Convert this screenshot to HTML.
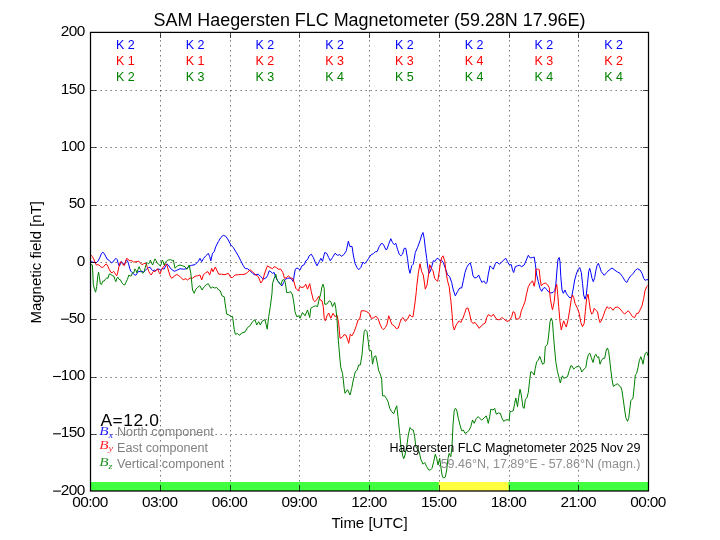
<!DOCTYPE html>
<html><head><meta charset="utf-8"><title>SAM Haegersten FLC Magnetometer</title>
<style>
html,body{margin:0;padding:0;background:#fff;}
body{width:720px;height:540px;overflow:hidden;}
svg{display:block;will-change:transform;}
text{font-family:"Liberation Sans",sans-serif;fill:#000;}
.m{font-family:"Liberation Serif",serif;font-style:italic;fill-opacity:0.85;}
</style></head><body>
<svg width="720" height="540" viewBox="0 0 720 540">
<rect x="0" y="0" width="720" height="540" fill="#ffffff"/>

<rect x="90.5" y="482" width="558.0" height="9.00" fill="#40ff40"/>
<rect x="438.75" y="482" width="69.75" height="9.00" fill="#ffff40"/>
<g stroke="#000" stroke-width="0.65" stroke-dasharray="1.25 3.75" fill="none">
<path d="M160.5 491.45 V32.4"/>
<path d="M230.5 491.45 V32.4"/>
<path d="M299.5 491.45 V32.4"/>
<path d="M369.5 491.45 V32.4"/>
<path d="M439.5 491.45 V32.4"/>
<path d="M509.5 491.45 V32.4"/>
<path d="M578.5 491.45 V32.4"/>
<path d="M90.5 90.50 H648.5"/>
<path d="M90.5 147.50 H648.5"/>
<path d="M90.5 205.50 H648.5"/>
<path d="M90.5 262.50 H648.5"/>
<path d="M90.5 319.50 H648.5"/>
<path d="M90.5 377.50 H648.5"/>
<path d="M90.5 434.50 H648.5"/>
</g>
<g fill="none" stroke-width="1.0" stroke-linejoin="round" stroke-linecap="butt">
<path stroke="#0000ff" d="M90.8 261.7 L93.0 262.2 L96.3 262.8 L98.0 261.1 L99.7 257.8 L101.3 253.9 L102.7 252.2 L104.1 253.3 L105.6 256.1 L107.1 259.1 L108.9 260.2 L110.2 261.7 L111.6 262.8 L113.3 261.7 L114.7 259.4 L116.0 258.3 L117.1 259.4 L118.0 262.8 L119.3 266.1 L120.4 263.9 L121.3 261.7 L122.7 262.8 L124.1 265.0 L125.2 262.8 L126.3 260.0 L127.4 260.6 L128.6 263.9 L129.7 268.3 L130.8 271.1 L132.4 272.8 L134.1 274.4 L135.8 275.3 L137.1 273.3 L138.6 271.3 L140.2 271.7 L141.9 271.3 L143.6 272.2 L145.2 270.6 L146.9 268.7 L148.6 267.6 L150.0 267.2 L151.3 269.1 L152.7 270.6 L154.4 270.2 L156.0 270.6 L157.4 269.1 L159.1 269.1 L160.8 270.0 L162.4 268.3 L164.1 269.1 L165.6 266.1 L166.9 263.9 L168.3 265.0 L170.8 268.7 L174.2 271.3 L176.7 270.3 L180.0 268.7 L183.3 269.2 L186.7 268.7 L189.2 266.3 L191.7 265.3 L195.0 264.7 L198.3 261.3 L200.0 258.3 L201.7 261.7 L203.7 258.3 L205.8 255.8 L208.3 253.3 L209.7 256.7 L210.8 260.8 L212.5 253.3 L214.2 251.7 L215.8 246.7 L218.3 241.7 L220.8 237.5 L223.3 235.3 L225.8 236.3 L228.3 240.0 L230.8 245.0 L233.3 247.5 L235.8 251.7 L238.3 255.8 L240.8 260.8 L243.3 265.8 L245.3 268.7 L247.5 268.7 L250.0 270.8 L252.5 273.3 L255.0 275.0 L258.3 274.2 L260.8 276.7 L263.3 279.2 L265.8 278.0 L267.5 275.8 L269.2 270.8 L270.8 271.7 L272.5 273.3 L274.2 272.5 L275.8 277.5 L278.3 281.7 L280.0 284.2 L282.0 285.8 L283.7 282.5 L285.3 279.2 L287.5 278.3 L290.0 278.0 L291.7 279.2 L293.3 281.7 L294.2 275.0 L295.3 269.2 L297.0 268.0 L298.3 268.7 L300.0 270.0 L302.0 265.8 L304.2 264.7 L305.8 260.8 L307.5 259.7 L309.2 255.8 L311.3 254.2 L313.3 257.5 L315.3 262.5 L317.0 265.8 L319.2 261.7 L320.8 258.3 L322.5 261.3 L324.7 252.5 L326.7 253.3 L328.7 257.5 L330.3 260.8 L332.5 257.5 L335.0 253.3 L337.5 255.3 L339.7 254.7 L341.7 256.3 L344.2 254.2 L346.3 250.8 L348.3 241.3 L350.0 246.7 L352.0 246.3 L353.3 255.0 L355.0 263.3 L357.0 267.5 L358.7 269.7 L360.8 267.5 L363.0 262.0 L364.7 263.7 L366.7 261.3 L368.7 258.3 L370.8 255.0 L373.3 253.7 L375.3 251.7 L377.0 251.7 L379.2 246.7 L381.7 243.0 L383.7 245.0 L385.8 249.7 L387.0 249.2 L388.7 244.2 L390.8 238.7 L392.5 242.5 L394.2 244.7 L395.8 243.3 L397.5 249.2 L399.2 254.2 L400.8 255.8 L402.5 254.2 L404.2 248.3 L405.8 248.3 L407.5 258.3 L408.7 268.3 L410.0 273.3 L411.7 265.8 L413.3 264.2 L415.3 252.5 L417.5 247.5 L420.0 240.8 L421.7 235.0 L423.0 232.5 L424.2 238.3 L425.3 248.3 L426.7 258.3 L428.0 268.3 L429.2 273.3 L430.8 270.0 L432.0 265.8 L433.3 260.8 L435.0 261.3 L436.7 258.7 L438.0 258.3 L439.7 260.3 L441.7 260.3 L443.3 262.5 L445.3 268.3 L447.5 274.7 L449.7 276.7 L451.7 282.5 L453.3 290.0 L455.3 295.8 L457.5 291.7 L459.7 288.0 L461.7 288.0 L463.3 280.8 L465.0 272.5 L466.7 267.5 L468.7 264.2 L470.3 263.0 L471.7 268.3 L473.0 275.8 L474.7 278.0 L476.7 277.5 L478.7 275.0 L480.3 279.2 L482.0 282.5 L483.7 280.8 L485.8 283.7 L487.0 282.5 L488.3 274.2 L490.0 265.8 L491.7 267.5 L493.3 269.2 L495.3 263.7 L497.0 262.0 L499.2 264.2 L501.3 262.5 L503.3 260.3 L505.8 258.3 L507.5 261.7 L509.2 264.7 L511.3 264.7 L512.5 270.0 L513.7 272.5 L515.3 266.7 L517.5 265.8 L519.7 265.3 L521.7 266.7 L524.2 265.0 L526.3 260.0 L528.3 255.3 L530.3 258.0 L532.5 257.5 L534.2 257.0 L535.3 264.2 L536.7 275.0 L538.3 281.7 L540.0 288.3 L541.7 291.3 L543.3 288.3 L545.0 287.5 L546.7 289.7 L548.7 292.0 L550.8 293.0 L553.0 292.5 L554.7 290.8 L555.8 285.0 L557.0 270.0 L558.0 259.2 L559.2 257.5 L560.0 261.7 L560.8 276.7 L562.0 290.0 L563.3 293.3 L565.0 290.0 L566.3 293.3 L568.0 295.8 L570.0 298.0 L571.7 296.7 L573.0 290.0 L574.7 280.0 L576.3 274.2 L578.0 269.7 L579.7 267.5 L581.3 272.5 L582.5 283.3 L583.7 295.0 L585.0 299.2 L586.3 295.0 L587.5 283.3 L588.7 271.7 L589.7 268.3 L590.8 272.5 L592.0 278.3 L593.3 281.7 L594.7 277.5 L595.8 270.8 L597.0 265.8 L598.3 263.3 L599.7 266.7 L601.3 271.7 L604.2 275.3 L606.7 272.5 L609.2 270.0 L612.0 268.0 L615.0 270.3 L617.5 272.0 L620.0 273.3 L622.5 276.7 L625.0 280.8 L626.7 282.5 L628.7 278.7 L630.8 275.8 L633.3 273.3 L635.3 270.3 L637.5 268.7 L640.0 270.0 L642.0 273.3 L643.7 278.3 L645.0 280.3 L646.7 279.7 L648.0 279.7"/>
<path stroke="#ff0000" d="M90.8 255.0 L92.4 256.7 L93.8 259.1 L94.9 262.2 L96.3 265.0 L97.8 264.7 L99.1 265.0 L100.4 266.4 L102.2 267.6 L103.6 266.7 L104.9 265.0 L106.3 263.9 L107.8 266.1 L109.1 269.1 L110.8 272.2 L112.2 272.8 L113.6 271.3 L114.7 272.8 L115.8 274.7 L116.7 275.8 L117.8 272.2 L118.9 266.7 L120.2 262.2 L121.1 261.7 L122.2 263.3 L123.3 265.0 L124.4 265.6 L125.6 261.1 L126.7 258.3 L127.8 258.9 L129.1 260.6 L130.8 260.6 L132.4 261.1 L133.8 262.2 L135.2 261.7 L136.9 261.7 L138.6 261.1 L140.2 262.8 L141.9 264.7 L143.3 263.9 L144.9 263.3 L146.3 263.6 L147.4 267.8 L148.9 271.7 L150.2 273.9 L151.3 275.0 L152.7 272.2 L153.8 271.1 L155.2 271.7 L156.7 269.4 L157.8 268.9 L158.9 272.2 L160.0 273.9 L161.3 270.6 L162.7 267.8 L164.1 266.1 L165.6 263.9 L166.9 265.0 L168.3 270.0 L170.0 275.8 L171.7 278.3 L174.2 276.3 L176.3 274.7 L178.3 275.0 L180.8 277.5 L183.3 279.7 L185.8 278.7 L187.5 280.0 L190.0 278.0 L192.5 278.3 L195.0 276.3 L197.5 275.8 L200.0 275.0 L201.7 280.0 L203.3 275.0 L205.8 272.5 L208.0 271.7 L209.7 275.0 L211.7 268.3 L213.0 271.7 L215.3 267.0 L216.7 270.0 L218.7 274.2 L221.7 274.2 L225.0 274.7 L228.3 273.3 L230.8 277.5 L232.5 277.5 L235.0 275.0 L238.3 274.7 L241.7 274.5 L245.0 274.2 L247.5 272.5 L250.0 269.7 L252.5 271.7 L255.0 274.2 L258.3 276.7 L260.8 283.0 L262.5 280.8 L264.2 275.0 L265.8 270.0 L267.5 265.8 L270.0 267.5 L272.5 268.7 L274.2 266.7 L276.3 267.5 L278.3 269.2 L280.8 269.2 L282.8 272.5 L284.5 278.3 L286.7 277.5 L288.3 275.8 L290.8 278.0 L292.5 278.3 L293.7 280.8 L295.8 288.3 L298.3 290.8 L300.0 286.7 L302.0 287.5 L304.2 286.7 L305.8 284.2 L307.5 289.2 L309.7 283.7 L311.3 291.7 L313.3 300.0 L315.0 301.7 L317.0 299.2 L318.7 296.3 L320.3 300.0 L322.0 300.8 L323.3 306.7 L324.2 318.3 L325.3 320.8 L327.0 315.8 L328.7 313.0 L330.8 318.3 L333.0 313.3 L335.0 316.7 L337.0 315.0 L338.7 323.3 L340.0 338.3 L342.0 337.5 L344.2 334.7 L345.8 335.0 L347.5 339.2 L348.7 343.3 L350.3 334.2 L352.0 335.8 L354.2 331.7 L356.3 325.8 L358.0 320.0 L359.7 319.2 L361.3 310.8 L364.2 310.8 L366.7 311.7 L369.2 313.3 L371.3 318.3 L373.3 318.0 L375.8 316.3 L378.0 318.3 L380.0 324.2 L382.0 328.3 L383.3 329.7 L385.3 327.5 L387.0 324.2 L388.7 315.8 L390.0 319.2 L391.7 324.2 L394.2 325.8 L396.3 328.7 L398.3 328.0 L400.0 322.5 L401.3 319.2 L403.0 317.5 L405.3 321.3 L407.5 319.2 L409.7 314.7 L411.7 316.7 L413.0 316.7 L414.7 305.0 L416.3 291.7 L416.7 286.7 L418.3 273.3 L420.0 263.7 L421.7 271.7 L423.3 275.0 L425.3 289.2 L427.0 285.0 L428.7 273.3 L429.7 264.7 L431.3 268.3 L433.0 270.8 L434.7 278.3 L436.3 280.3 L437.7 281.3 L439.2 271.7 L440.3 263.3 L441.7 257.5 L443.0 255.8 L444.7 260.8 L445.8 270.0 L447.5 280.8 L449.2 286.7 L450.3 296.7 L450.8 300.0 L452.0 313.3 L453.0 325.8 L454.3 330.0 L455.8 325.8 L457.5 323.0 L459.2 320.8 L460.8 322.5 L463.0 318.0 L464.7 313.3 L466.3 308.3 L468.0 308.0 L469.7 314.2 L471.3 321.7 L473.0 323.3 L475.0 322.5 L477.0 325.0 L479.2 328.3 L481.3 325.8 L483.3 324.2 L485.3 323.0 L486.7 317.5 L488.3 314.7 L490.3 315.8 L491.7 316.3 L493.3 314.2 L495.0 317.0 L496.7 319.2 L499.2 320.0 L501.7 317.5 L503.7 318.7 L505.8 320.8 L508.0 321.3 L510.0 319.7 L511.7 316.7 L513.0 311.7 L514.7 312.5 L515.8 318.7 L518.0 319.2 L519.7 318.0 L521.3 310.8 L523.0 306.7 L525.0 301.7 L526.3 295.0 L526.7 293.3 L528.3 286.7 L530.0 283.7 L532.5 280.8 L534.2 286.3 L535.3 280.0 L535.8 269.2 L537.5 269.2 L538.7 269.2 L539.2 269.7 L540.3 280.0 L541.3 285.8 L543.3 283.7 L545.3 283.0 L547.5 284.7 L549.2 287.5 L550.3 298.3 L551.7 306.7 L552.5 309.7 L554.2 301.7 L555.3 290.0 L556.7 284.2 L557.5 291.7 L558.7 306.7 L560.0 321.7 L561.3 330.0 L562.5 325.0 L563.7 320.8 L565.0 324.2 L566.3 327.0 L568.0 320.0 L569.7 310.0 L571.3 299.2 L572.5 295.0 L573.7 297.5 L575.0 303.3 L577.5 308.3 L579.2 313.3 L580.8 322.5 L582.5 326.7 L584.2 323.3 L585.3 311.7 L586.7 298.3 L588.0 294.2 L589.2 301.7 L590.3 310.0 L591.7 314.2 L593.0 312.5 L594.2 308.3 L595.8 310.3 L597.5 311.7 L598.7 318.3 L600.0 322.5 L601.7 320.0 L603.3 315.8 L605.0 310.8 L607.0 306.7 L608.7 308.3 L610.8 307.5 L613.0 310.3 L615.0 307.5 L617.5 307.0 L620.0 308.7 L622.5 312.0 L624.7 314.2 L626.7 312.0 L628.3 310.8 L630.3 313.3 L632.5 316.7 L634.7 317.5 L636.7 313.3 L638.3 313.3 L640.0 310.0 L642.0 305.8 L643.7 298.3 L645.0 290.8 L646.7 286.7 L648.0 285.3"/>
<path stroke="#008000" d="M90.8 264.4 L92.4 265.0 L93.3 284.4 L94.4 288.9 L95.6 292.2 L96.7 286.7 L97.8 275.6 L98.6 272.2 L99.3 276.7 L100.4 283.9 L101.6 284.4 L102.7 281.3 L104.1 281.1 L105.6 279.1 L106.7 277.8 L108.0 278.3 L109.3 273.9 L110.8 274.4 L112.2 275.6 L113.8 276.1 L114.9 279.4 L115.8 281.7 L116.9 278.3 L117.8 277.2 L119.1 279.4 L120.4 279.8 L121.9 282.8 L123.3 284.4 L124.7 285.0 L126.0 282.2 L127.4 279.4 L128.9 275.0 L130.0 276.1 L131.3 275.8 L132.4 272.8 L133.8 272.8 L134.9 268.9 L135.8 269.8 L136.9 272.8 L138.0 269.4 L139.1 266.7 L140.2 269.4 L141.6 271.7 L142.7 273.3 L144.1 271.7 L145.2 267.8 L146.3 263.9 L147.4 262.8 L148.6 263.9 L149.7 262.2 L150.4 260.0 L151.6 263.3 L152.7 265.0 L153.8 261.7 L155.0 258.9 L156.0 260.6 L157.4 263.3 L159.1 264.4 L160.2 266.1 L161.3 263.9 L162.2 260.0 L163.3 261.7 L164.1 265.0 L165.6 262.2 L167.1 260.6 L168.3 260.0 L170.8 259.7 L172.5 260.8 L173.3 260.0 L175.0 268.3 L177.5 265.8 L180.0 265.0 L182.5 265.8 L185.0 266.7 L187.0 269.2 L189.2 265.0 L190.8 273.3 L192.5 290.0 L194.2 293.3 L195.8 289.2 L197.5 287.5 L199.7 285.8 L200.0 285.8 L202.0 290.0 L204.2 286.7 L206.3 284.7 L208.3 283.7 L210.8 288.3 L212.5 287.0 L214.7 288.0 L216.7 287.5 L218.7 290.0 L220.3 290.8 L222.0 295.8 L224.2 296.7 L225.8 308.3 L226.7 314.2 L229.2 315.0 L230.8 316.7 L232.5 316.3 L234.2 329.2 L235.3 334.2 L237.5 333.7 L239.7 335.3 L241.7 333.0 L245.0 332.0 L247.5 327.5 L250.0 325.8 L252.5 321.7 L255.0 319.7 L256.7 325.0 L258.7 321.7 L260.3 325.0 L262.5 320.8 L265.0 319.7 L267.2 329.2 L268.7 316.7 L270.3 306.7 L272.0 293.3 L272.5 283.3 L274.2 278.3 L275.8 274.2 L277.0 280.0 L279.2 282.5 L280.8 285.0 L282.5 280.0 L284.2 279.7 L285.3 282.5 L286.7 292.5 L288.3 292.5 L290.8 291.7 L292.5 295.0 L294.2 305.0 L295.0 311.7 L296.7 316.7 L298.7 315.8 L300.0 318.3 L302.5 312.5 L305.0 315.8 L307.5 310.0 L309.7 317.5 L310.8 308.3 L313.3 306.7 L315.8 305.8 L317.5 306.7 L319.2 299.2 L320.8 293.3 L322.0 286.7 L323.0 284.2 L324.2 288.3 L324.7 304.2 L326.7 304.2 L329.2 300.8 L330.8 301.7 L332.5 306.7 L334.7 302.5 L335.8 308.3 L337.0 319.2 L338.3 340.0 L340.0 360.0 L340.8 367.5 L342.5 373.3 L343.3 380.0 L344.2 388.3 L345.0 393.3 L347.5 389.7 L350.0 395.0 L351.7 388.3 L353.3 380.0 L355.3 371.7 L357.0 370.3 L358.7 365.0 L360.3 365.0 L362.0 355.0 L363.0 343.3 L364.2 331.7 L365.3 329.7 L367.0 331.7 L368.3 341.7 L369.2 350.0 L371.3 350.8 L372.5 364.2 L374.2 356.7 L375.8 355.8 L377.5 364.2 L378.7 370.8 L380.3 374.2 L381.7 379.2 L382.5 395.8 L384.7 395.8 L386.3 398.3 L388.0 401.7 L389.7 408.3 L391.7 411.7 L393.7 413.7 L395.3 409.2 L396.7 405.8 L398.0 416.7 L399.7 433.3 L400.8 445.0 L402.5 455.0 L403.7 458.7 L405.0 455.0 L406.7 446.7 L408.3 435.0 L410.0 427.5 L411.7 429.7 L413.3 430.0 L414.7 436.7 L415.8 446.7 L417.5 449.2 L419.2 451.7 L420.8 459.2 L423.0 464.2 L424.7 462.5 L426.7 466.7 L428.7 470.0 L430.3 470.0 L432.0 468.3 L433.7 461.7 L435.3 454.2 L436.7 458.3 L438.0 465.0 L439.7 458.3 L440.8 466.7 L442.0 475.0 L443.3 478.0 L445.3 477.0 L446.7 470.0 L448.0 458.3 L449.2 453.3 L450.8 456.7 L452.0 446.7 L453.0 425.0 L454.2 410.8 L455.3 408.3 L456.7 410.0 L458.3 418.3 L460.0 425.0 L461.7 430.8 L463.3 430.0 L465.0 433.3 L467.0 432.5 L469.2 430.0 L470.8 426.7 L472.5 420.0 L474.2 423.3 L476.3 418.3 L478.3 416.7 L480.0 418.7 L481.7 420.0 L484.2 418.0 L486.3 415.8 L488.3 423.3 L489.7 416.7 L490.8 409.2 L493.0 410.0 L494.7 408.3 L496.3 414.2 L498.3 413.0 L500.3 413.3 L502.0 418.3 L503.7 421.3 L505.8 420.0 L508.0 419.7 L509.2 420.3 L510.0 411.7 L511.7 411.3 L513.3 410.8 L514.7 403.3 L515.8 398.0 L517.5 406.7 L518.7 397.5 L520.0 389.2 L521.3 395.0 L523.0 407.5 L524.2 408.3 L525.3 399.7 L527.0 397.5 L528.3 392.5 L529.7 380.0 L530.8 371.7 L532.5 372.5 L534.2 375.0 L535.3 368.3 L536.7 361.7 L538.3 360.3 L539.7 356.3 L540.8 359.2 L542.5 364.2 L544.2 363.3 L545.3 346.7 L547.5 344.2 L548.7 335.0 L550.0 321.7 L551.3 318.3 L552.5 321.7 L553.3 333.3 L554.7 350.0 L555.8 361.7 L557.5 371.7 L559.2 378.3 L560.3 383.0 L561.7 377.5 L562.5 375.8 L563.7 378.3 L565.8 377.5 L567.5 376.7 L569.2 370.8 L570.8 365.8 L572.0 365.8 L573.7 369.2 L575.3 367.5 L577.0 366.7 L578.7 366.3 L580.3 367.5 L581.7 372.0 L583.3 370.0 L584.7 368.3 L585.8 367.5 L587.0 360.0 L588.3 354.7 L589.7 353.0 L591.3 357.5 L593.0 362.5 L594.7 355.8 L595.8 354.2 L597.5 357.5 L598.7 356.7 L600.0 364.2 L601.3 360.8 L603.0 358.3 L604.7 358.3 L606.3 350.0 L607.5 348.0 L608.7 351.7 L609.7 360.0 L610.8 370.0 L612.0 379.2 L613.3 386.3 L615.3 385.0 L617.5 383.7 L619.2 385.8 L620.8 387.0 L622.0 390.8 L623.3 400.0 L624.7 410.0 L625.8 417.5 L627.5 421.3 L628.7 418.3 L629.7 410.0 L630.8 400.8 L632.0 399.2 L633.0 398.3 L634.2 386.7 L635.3 375.0 L636.7 373.3 L638.0 367.5 L639.3 360.8 L640.8 356.7 L642.0 360.0 L643.0 364.2 L644.2 357.5 L645.3 353.3 L646.7 352.0 L648.0 355.8"/>
</g>
<g stroke="#000" stroke-width="0.7" fill="none">
<path d="M160.5 491.0 v-5.6 M160.5 32.4 v5.6"/>
<path d="M230.5 491.0 v-5.6 M230.5 32.4 v5.6"/>
<path d="M299.5 491.0 v-5.6 M299.5 32.4 v5.6"/>
<path d="M369.5 491.0 v-5.6 M369.5 32.4 v5.6"/>
<path d="M439.5 491.0 v-5.6 M439.5 32.4 v5.6"/>
<path d="M509.5 491.0 v-5.6 M509.5 32.4 v5.6"/>
<path d="M578.5 491.0 v-5.6 M578.5 32.4 v5.6"/>
<path d="M90.5 90.50 h5.6 M648.5 90.50 h-5.6"/>
<path d="M90.5 147.50 h5.6 M648.5 147.50 h-5.6"/>
<path d="M90.5 205.50 h5.6 M648.5 205.50 h-5.6"/>
<path d="M90.5 262.50 h5.6 M648.5 262.50 h-5.6"/>
<path d="M90.5 319.50 h5.6 M648.5 319.50 h-5.6"/>
<path d="M90.5 377.50 h5.6 M648.5 377.50 h-5.6"/>
<path d="M90.5 434.50 h5.6 M648.5 434.50 h-5.6"/>
</g>
<rect x="90.5" y="32.4" width="558.0" height="458.6" fill="none" stroke="#000" stroke-width="1.25"/>
<text x="369.5" y="25.7" font-size="17.92" text-anchor="middle">SAM Haegersten FLC Magnetometer (59.28N 17.96E)</text>
<text x="84.7" y="36.30" font-size="15.4" letter-spacing="-0.56" text-anchor="end">200</text>
<text x="84.7" y="93.60" font-size="15.4" letter-spacing="-0.56" text-anchor="end">150</text>
<text x="84.7" y="150.90" font-size="15.4" letter-spacing="-0.56" text-anchor="end">100</text>
<text x="84.7" y="208.20" font-size="15.4" letter-spacing="-0.56" text-anchor="end">50</text>
<text x="84.7" y="265.50" font-size="15.4" letter-spacing="-0.56" text-anchor="end">0</text>
<text x="84.7" y="322.80" font-size="15.4" letter-spacing="-0.56" text-anchor="end">50</text>
<path d="M61.10 319.20 h7.8" stroke="#000" stroke-width="1.1"/>
<text x="84.7" y="380.10" font-size="15.4" letter-spacing="-0.56" text-anchor="end">100</text>
<path d="M53.10 376.50 h7.8" stroke="#000" stroke-width="1.1"/>
<text x="84.7" y="437.40" font-size="15.4" letter-spacing="-0.56" text-anchor="end">150</text>
<path d="M53.10 433.80 h7.8" stroke="#000" stroke-width="1.1"/>
<text x="84.7" y="494.70" font-size="15.4" letter-spacing="-0.56" text-anchor="end">200</text>
<path d="M53.10 491.10 h7.8" stroke="#000" stroke-width="1.1"/>
<text x="90.00" y="506.9" font-size="15.4" letter-spacing="-0.6" text-anchor="middle">00:00</text>
<text x="159.75" y="506.9" font-size="15.4" letter-spacing="-0.6" text-anchor="middle">03:00</text>
<text x="229.50" y="506.9" font-size="15.4" letter-spacing="-0.6" text-anchor="middle">06:00</text>
<text x="299.25" y="506.9" font-size="15.4" letter-spacing="-0.6" text-anchor="middle">09:00</text>
<text x="369.00" y="506.9" font-size="15.4" letter-spacing="-0.6" text-anchor="middle">12:00</text>
<text x="438.75" y="506.9" font-size="15.4" letter-spacing="-0.6" text-anchor="middle">15:00</text>
<text x="508.50" y="506.9" font-size="15.4" letter-spacing="-0.6" text-anchor="middle">18:00</text>
<text x="578.25" y="506.9" font-size="15.4" letter-spacing="-0.6" text-anchor="middle">21:00</text>
<text x="648.00" y="506.9" font-size="15.4" letter-spacing="-0.6" text-anchor="middle">00:00</text>
<text x="369.5" y="528" font-size="15" text-anchor="middle">Time [UTC]</text>
<text transform="translate(41.1,262.3) rotate(-90)" font-size="15" text-anchor="middle">Magnetic field [nT]</text>
<text x="125.28" y="49.2" font-size="12.5" text-anchor="middle" style="fill:#0000ff">K 2</text>
<text x="195.03" y="49.2" font-size="12.5" text-anchor="middle" style="fill:#0000ff">K 2</text>
<text x="264.77" y="49.2" font-size="12.5" text-anchor="middle" style="fill:#0000ff">K 2</text>
<text x="334.52" y="49.2" font-size="12.5" text-anchor="middle" style="fill:#0000ff">K 2</text>
<text x="404.27" y="49.2" font-size="12.5" text-anchor="middle" style="fill:#0000ff">K 2</text>
<text x="474.02" y="49.2" font-size="12.5" text-anchor="middle" style="fill:#0000ff">K 2</text>
<text x="543.77" y="49.2" font-size="12.5" text-anchor="middle" style="fill:#0000ff">K 2</text>
<text x="613.52" y="49.2" font-size="12.5" text-anchor="middle" style="fill:#0000ff">K 2</text>
<text x="125.28" y="65" font-size="12.5" text-anchor="middle" style="fill:#ff0000">K 1</text>
<text x="195.03" y="65" font-size="12.5" text-anchor="middle" style="fill:#ff0000">K 1</text>
<text x="264.77" y="65" font-size="12.5" text-anchor="middle" style="fill:#ff0000">K 2</text>
<text x="334.52" y="65" font-size="12.5" text-anchor="middle" style="fill:#ff0000">K 3</text>
<text x="404.27" y="65" font-size="12.5" text-anchor="middle" style="fill:#ff0000">K 3</text>
<text x="474.02" y="65" font-size="12.5" text-anchor="middle" style="fill:#ff0000">K 4</text>
<text x="543.77" y="65" font-size="12.5" text-anchor="middle" style="fill:#ff0000">K 3</text>
<text x="613.52" y="65" font-size="12.5" text-anchor="middle" style="fill:#ff0000">K 2</text>
<text x="125.28" y="80.8" font-size="12.5" text-anchor="middle" style="fill:#008000">K 2</text>
<text x="195.03" y="80.8" font-size="12.5" text-anchor="middle" style="fill:#008000">K 3</text>
<text x="264.77" y="80.8" font-size="12.5" text-anchor="middle" style="fill:#008000">K 3</text>
<text x="334.52" y="80.8" font-size="12.5" text-anchor="middle" style="fill:#008000">K 4</text>
<text x="404.27" y="80.8" font-size="12.5" text-anchor="middle" style="fill:#008000">K 5</text>
<text x="474.02" y="80.8" font-size="12.5" text-anchor="middle" style="fill:#008000">K 4</text>
<text x="543.77" y="80.8" font-size="12.5" text-anchor="middle" style="fill:#008000">K 4</text>
<text x="613.52" y="80.8" font-size="12.5" text-anchor="middle" style="fill:#008000">K 4</text>
<text x="100.4" y="426.2" font-size="17.4" letter-spacing="0.6">A=12.0</text>
<text transform="translate(99.3,435) scale(1.2,1)" font-size="12.7" style="fill:#0000ff" class="m">B<tspan font-size="8.7" dy="2.5">x</tspan></text>
<text x="117" y="435.7" font-size="12.62" style="fill:#808080">North component</text>
<text transform="translate(99.3,448.8) scale(1.2,1)" font-size="12.7" style="fill:#ff0000" class="m">B<tspan font-size="8.7" dy="2.5">y</tspan></text>
<text x="117" y="451.7" font-size="12.62" style="fill:#808080">East component</text>
<text transform="translate(99.3,466.4) scale(1.2,1)" font-size="12.7" style="fill:#008000" class="m">B<tspan font-size="8.7" dy="2.5">z</tspan></text>
<text x="117" y="467.6" font-size="12.62" style="fill:#808080">Vertical component</text>
<text x="640.5" y="451.6" font-size="12.55" text-anchor="end">Haegersten FLC Magnetometer 2025 Nov 29</text>
<text x="640.5" y="467.8" font-size="12.5" text-anchor="end" style="fill:#8e8e8e">59.46°N, 17.89°E - 57.86°N (magn.)</text>
</svg></body></html>
